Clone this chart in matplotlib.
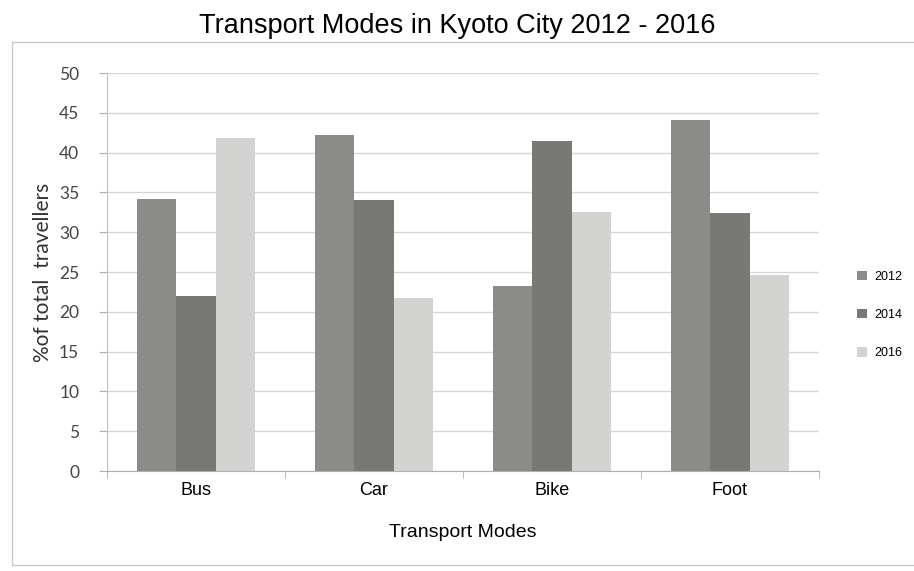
import numpy as np
import matplotlib.pyplot as plt
from matplotlib.patches import Rectangle

modes = ['Bus', 'Car', 'Bike', 'Foot']
years = ['2012', '2014', '2016']
vals_2012 = [34.2, 42.2, 23.2, 44.1]
vals_2014 = [22.0, 34.0, 41.5, 32.4]
vals_2016 = [41.8, 21.7, 32.6, 24.6]
colors = ['#8b8b87', '#787875', '#d3d3d1']

plt.rcParams['font.family'] = ['Liberation Sans', 'DejaVu Sans']

fig = plt.figure(figsize=(9.14, 5.71), dpi=100)
ax = fig.add_axes([0.117, 0.175, 0.779, 0.697])

# chart border
fig.patches.append(Rectangle((0.013, 0.01), 0.99, 0.917, transform=fig.transFigure,
                             fill=False, edgecolor='#c8c8c8', lw=1.0))

x = np.arange(len(modes))
w = 0.22
for i, (vals, c) in enumerate(zip([vals_2012, vals_2014, vals_2016], colors)):
    ax.bar(x + (i - 1) * w, vals, width=w, color=c, label=years[i], zorder=3)

ax.set_xlim(-0.5, 3.5)
ax.set_ylim(0, 50)
ax.set_yticks(np.arange(0, 51, 5))
ax.set_xticks(x)
ax.set_xticklabels(modes, fontsize=13)
ax.set_xticks(np.arange(-0.5, 3.6, 1), minor=True)
ax.tick_params(axis='x', which='major', length=0, pad=8)
ax.tick_params(axis='x', which='minor', length=5, color='#b0b0b0')
ax.tick_params(axis='y', length=6, color='#b0b0b0', labelsize=12.5, labelcolor='#444444', pad=14)
for lab in ax.get_yticklabels():
    lab.set_family(['Lato', 'DejaVu Sans'])
ax.grid(axis='y', color='#d5d5d5', lw=1.0, zorder=0)
for s in ['top', 'right']:
    ax.spines[s].set_visible(False)
ax.spines['left'].set_color('#c0c0c0')
ax.spines['bottom'].set_color('#b0b0b0')

ax.set_ylabel('%of total  travellers', fontsize=15, color='#333333', labelpad=4,
              family=['Lato', 'DejaVu Sans'])
ax.set_xlabel('Transport Modes', fontsize=14, labelpad=18)
fig.suptitle('Transport Modes in Kyoto City 2012 - 2016', fontsize=19.5, y=0.978)

ax.legend(loc='center left', bbox_to_anchor=(1.038, 0.392), frameon=False,
          fontsize=9, handlelength=0.75, handleheight=0.75, labelspacing=2.1,
          handletextpad=0.6)

fig.savefig('out.png', dpi=100)
